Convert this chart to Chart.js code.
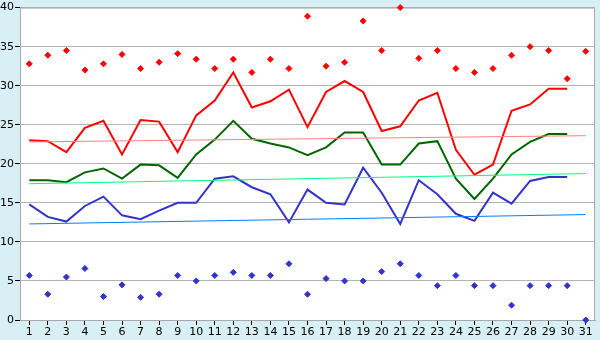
<!DOCTYPE html>
<html>
<head>
<meta charset="utf-8">
<script src="https://cdn.jsdelivr.net/npm/chart.js@4/dist/chart.umd.min.js"></script>
<style>
  html, body { margin: 0; padding: 0; background: #D9EFF6; }
  #wrap { width: 600px; height: 340px; }
</style>
</head>
<body>
<div id="wrap"><canvas id="c" width="600" height="340"></canvas></div>
<script>
const days = ['1','2','3','4','5','6','7','8','9','10','11','12','13','14','15','16','17','18','19','20','21','22','23','24','25','26','27','28','29','30','31'];

const maxAvg = [23.0,22.9,21.5,24.6,25.5,21.2,25.6,25.4,21.5,26.2,28.1,31.7,27.2,28.0,29.5,24.7,29.2,30.6,29.2,24.2,24.8,28.1,29.1,21.8,18.6,19.9,26.8,27.6,29.6,29.6,null];
const meanAvg = [17.9,17.9,17.65,18.9,19.4,18.1,19.9,19.8,18.2,21.2,23.1,25.5,23.2,22.6,22.1,21.1,22.1,24.0,24.0,19.9,19.9,22.6,22.9,18.1,15.5,18.1,21.2,22.8,23.8,23.8,null];
const minAvg = [14.8,13.2,12.6,14.6,15.8,13.4,12.9,14.0,15.0,15.0,18.1,18.4,17.0,16.1,12.5,16.7,15.0,14.8,19.5,16.3,12.3,17.9,16.1,13.6,12.7,16.3,14.9,17.8,18.3,18.3,null];

const maxExtreme = [32.8,33.9,34.5,32.0,32.8,34.0,32.2,33.0,34.1,33.4,32.2,33.4,31.7,33.4,32.2,38.9,32.5,33.0,38.3,34.5,40.0,33.5,34.5,32.2,31.7,32.2,33.9,35.0,34.5,30.9,34.4];
const minExtreme = [5.7,3.3,5.5,6.6,3.0,4.5,2.9,3.3,5.7,5.0,5.7,6.1,5.7,5.7,7.2,3.3,5.3,5.0,5.0,6.2,7.2,5.7,4.4,5.7,4.4,4.4,1.9,4.4,4.4,4.4,0.0];

// trend lines: [value at first day, value at last day]
const maxTrend = [22.8, 23.6];
const meanTrend = [17.45, 18.75];
const minTrend = [12.3, 13.5];

const yTicks = [0,5,10,15,20,25,30,35,40];

function trendData(t) {
  return [{x: days[0], y: t[0]}, {x: days[days.length - 1], y: t[1]}];
}

const bgPlugin = {
  id: 'bg',
  beforeDraw(chart) {
    const ctx = chart.ctx, a = chart.chartArea;
    ctx.save();
    ctx.fillStyle = '#D9EFF6';
    ctx.fillRect(0, 0, chart.width, chart.height);
    ctx.fillStyle = '#FFFFFF';
    ctx.fillRect(a.left, a.top, a.right - a.left, a.bottom - a.top);
    ctx.restore();
  },
  beforeDatasetsDraw(chart) {
    const ctx = chart.ctx, a = chart.chartArea;
    ctx.save();
    ctx.strokeStyle = '#A8A8A8';
    ctx.lineWidth = 1;
    ctx.beginPath();
    ctx.moveTo(a.left, a.top + 0.5);
    ctx.lineTo(a.right - 0.5, a.top + 0.5);
    ctx.lineTo(a.right - 0.5, a.bottom);
    ctx.stroke();
    ctx.restore();
  }
};

const font = { family: 'DejaVu Sans', size: 11 };

new Chart(document.getElementById('c'), {
  type: 'line',
  data: {
    labels: days,
    datasets: [
      { data: trendData(maxTrend), borderColor: '#FF8080', borderWidth: 1, pointRadius: 0, fill: false, tension: 0 },
      { data: trendData(meanTrend), borderColor: '#00FF80', borderWidth: 1, pointRadius: 0, fill: false, tension: 0 },
      { data: trendData(minTrend), borderColor: '#0080FF', borderWidth: 1, pointRadius: 0, fill: false, tension: 0 },
      { data: maxAvg, borderColor: '#FF0000', borderWidth: 2, pointRadius: 0, fill: false, tension: 0 },
      { data: meanAvg, borderColor: '#006600', borderWidth: 2, pointRadius: 0, fill: false, tension: 0 },
      { data: minAvg, borderColor: '#3333CC', borderWidth: 2, pointRadius: 0, fill: false, tension: 0 },
      { data: maxExtreme, showLine: false, clip: false, pointStyle: 'rectRot', pointRadius: 3, backgroundColor: '#FF0000', borderColor: '#FF0000', borderWidth: 1 },
      { data: minExtreme, showLine: false, clip: false, pointStyle: 'rectRot', pointRadius: 3, backgroundColor: '#3333CC', borderColor: '#3333CC', borderWidth: 1 }
    ]
  },
  options: {
    responsive: false,
    animation: false,
    layout: { padding: { top: 5, right: 5, left: 0, bottom: 0 } },
    plugins: { legend: { display: false }, tooltip: { enabled: false } },
    scales: {
      x: {
        type: 'category',
        offset: true,
        grid: { drawOnChartArea: false, drawTicks: true, tickLength: 5, tickColor: '#000000', offset: false },
        border: { color: '#A8A8A8' },
        ticks: { color: '#000000', font: font, padding: 1, maxRotation: 0, autoSkip: false },
        afterFit(s) { s.height = 20; }
      },
      y: {
        min: 0, max: 40,
        afterBuildTicks(s) { s.ticks = yTicks.map(v => ({ value: v })); },
        grid: { color: '#B4B4B4', tickLength: 5, tickColor: '#000000' },
        border: { color: '#A8A8A8' },
        ticks: { color: '#000000', font: font, padding: 1 },
        afterFit(s) { s.width = 20; }
      }
    }
  },
  plugins: [bgPlugin]
});
</script>
</body>
</html>
